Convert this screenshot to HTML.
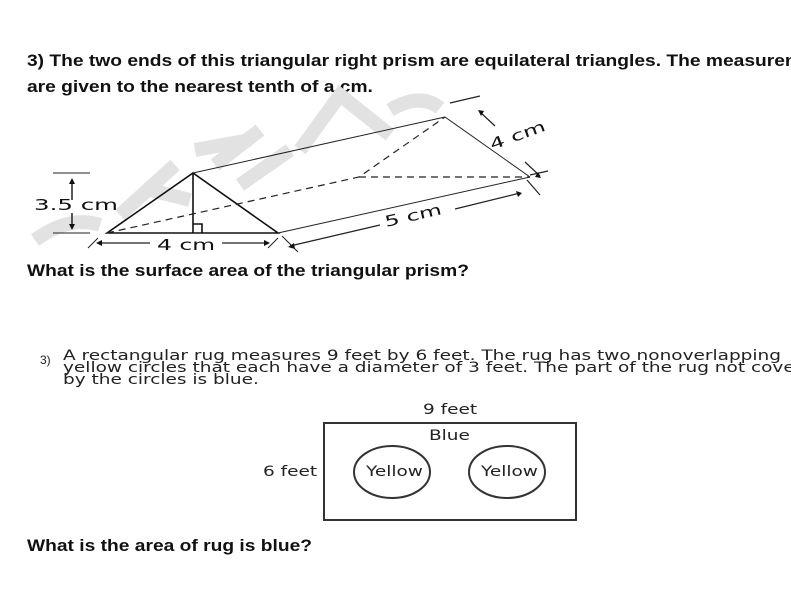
<!DOCTYPE html>
<html><head><style>
html,body{margin:0;background:#fff;width:791px;height:594px;overflow:hidden}
#w{position:relative;width:791px;height:594px;overflow:hidden;font-family:"Liberation Sans",sans-serif}
.b{position:absolute;font-weight:bold;font-size:17px;color:#111;white-space:nowrap;transform:scaleX(1.13);transform-origin:0 0}
.v{position:absolute;font-family:"DejaVu Sans",sans-serif;font-size:14px;color:#222;white-space:nowrap;line-height:12px;transform:scaleX(1.32);transform-origin:0 0}
</style></head><body><div id="w">
<div class="b" style="left:27px;top:51px">3) The two ends of this triangular right prism are equilateral triangles. The measurements</div>
<div class="b" style="left:27px;top:77px">are given to the nearest tenth of a cm.</div>
<svg style="position:absolute;left:0;top:0" width="791" height="594">
<g fill="none" stroke="#e2e2e2" stroke-width="14">
<path d="M35 240 Q70 215 100 225"/><path d="M120 215 L175 165 M150 190 L190 200"/><path d="M215 165 L260 130 M195 150 L250 140 M240 185 L290 150"/><path d="M300 150 L340 95 L390 135"/><path d="M390 110 Q420 92 440 108"/>
</g>
<g stroke="#111" stroke-width="1.6" fill="none">
<path d="M107 233 L193 173 L278 233 Z"/><path d="M193 173 L193 233"/><path d="M193 224 h9 v9"/>
</g>
<g stroke="#222" stroke-width="1" fill="none">
<path d="M193 173 L445 117"/><path d="M278 233 L530 177"/><path d="M445 117 L530 177"/>
<path d="M107 233 L359 177 L445 117 M359 177 L530 177" stroke-dasharray="7,5" stroke-width="1.2"/>
<path d="M53 173 H90 M53 233 H90"/>
<path d="M72 200 V180 M72 213 V228" stroke-width="1.5"/>
<path d="M88 248 L98 238 M268 248 L278 238 M282 236 L298 252"/>
<path d="M98 243 H150 M222 243 H268" stroke-width="1.2"/>
<path d="M290 246 L380 225 M455 209 L520 193" stroke-width="1.2"/>
<path d="M450 103 L480 96 M530 175 L548 171 M480 112 L495 126 M525 162 L540 176 M527 180 L540 195" stroke-width="1.2"/>
</g>
<g fill="#111"><path d="M72 178 l-3 6 h6z M72 230 l-3 -6 h6z M96 243 l6 -3 v6z M270 243 l-6 -3 v6z M288 247 l6 -4 l1 6z M522 193 l-6 -2 l2 6z M478 110 l6 1 l-3 5z M541 178 l-6 -1 l3 -5z"/></g>
<g font-family="DejaVu Sans" font-size="15" fill="#111">
<text x="34" y="210" textLength="84" lengthAdjust="spacingAndGlyphs">3.5 cm</text>
<text x="157" y="250" textLength="58" lengthAdjust="spacingAndGlyphs">4 cm</text>
<text x="386" y="227" transform="rotate(-13 386 227)" textLength="58" lengthAdjust="spacingAndGlyphs">5 cm</text>
<text x="492" y="150" transform="rotate(-20 492 150)" textLength="58" lengthAdjust="spacingAndGlyphs">4 cm</text>
</g>
<rect x="324" y="423" width="252" height="97" fill="none" stroke="#333" stroke-width="2"/>
<ellipse cx="392" cy="472" rx="38" ry="26" fill="none" stroke="#333" stroke-width="2"/>
<ellipse cx="507" cy="472" rx="38" ry="26" fill="none" stroke="#333" stroke-width="2"/>
</svg>
<div class="b" style="left:27px;top:261px">What is the surface area of the triangular prism?</div>
<div class="v" style="left:40px;top:354px;font-family:'Liberation Sans',sans-serif;font-size:12px;transform:none">3)</div>
<div class="v" style="left:63px;top:350px">A rectangular rug measures 9 feet by 6 feet. The rug has two nonoverlapping</div>
<div class="v" style="left:63px;top:362px">yellow circles that each have a diameter of 3 feet. The part of the rug not covered</div>
<div class="v" style="left:63px;top:374px">by the circles is blue.</div>
<div class="v" style="left:423px;top:404px">9 feet</div>
<div class="v" style="left:429px;top:430px">Blue</div>
<div class="v" style="left:263px;top:466px">6 feet</div>
<div class="v" style="left:366px;top:466px">Yellow</div>
<div class="v" style="left:481px;top:466px">Yellow</div>
<div class="b" style="left:27px;top:536px">What is the area of rug is blue?</div>
</div></body></html>
